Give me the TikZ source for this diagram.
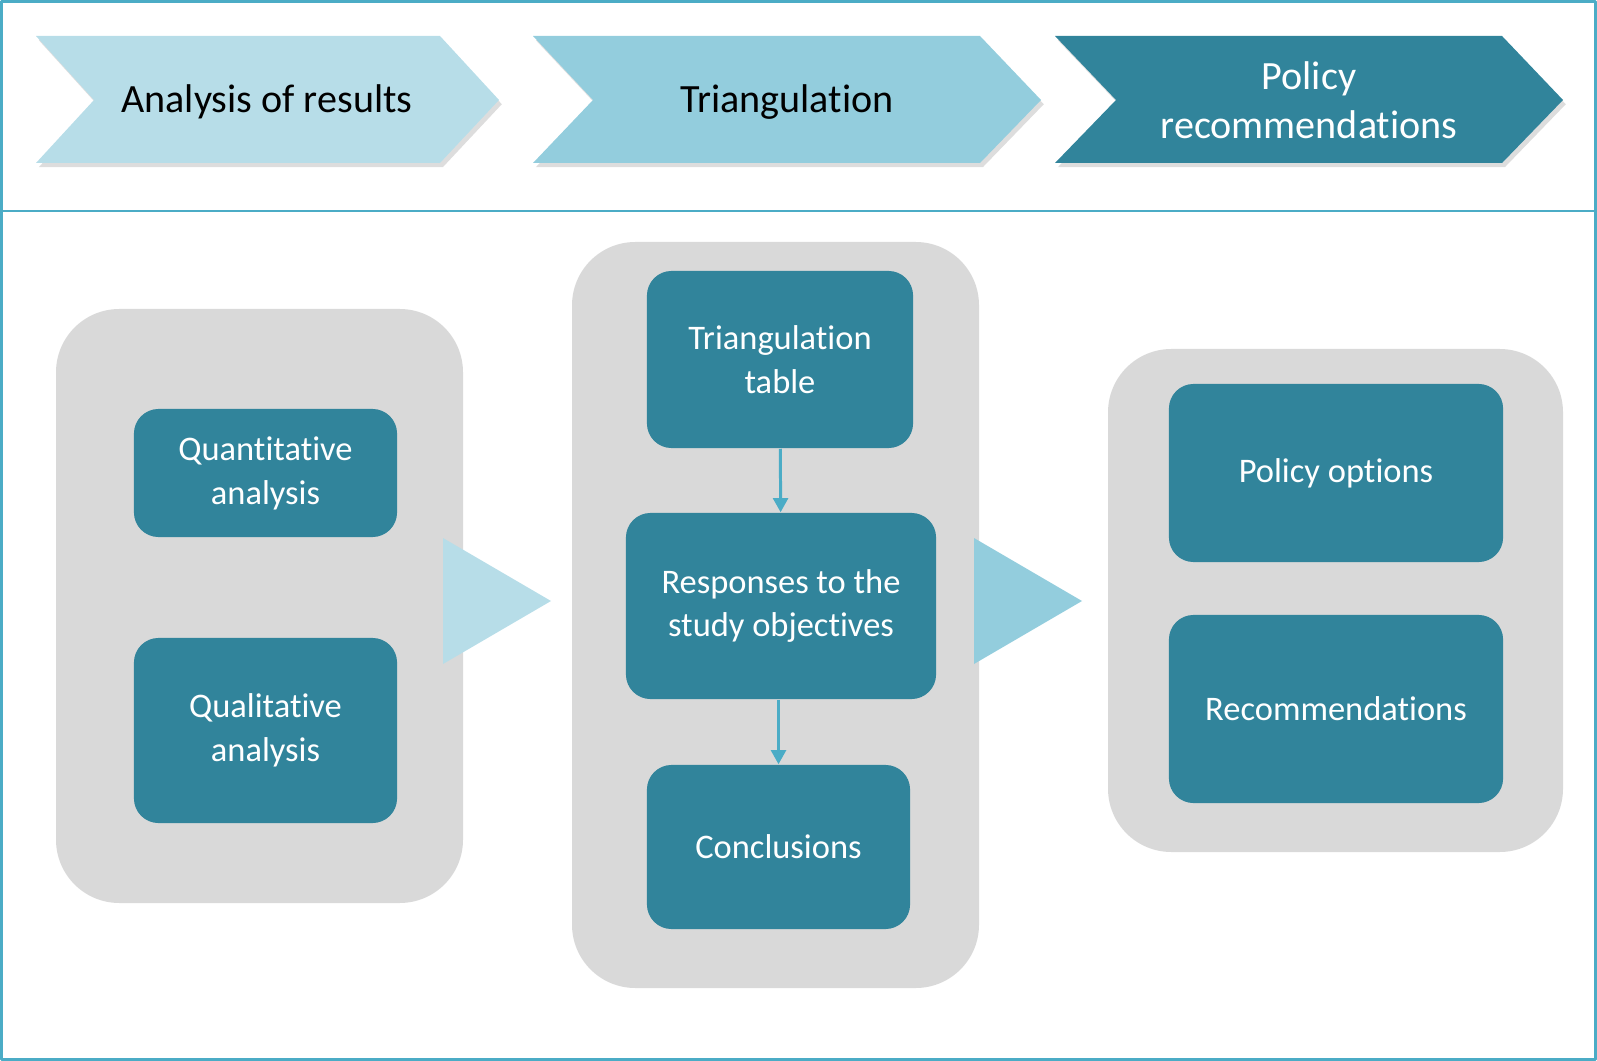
\documentclass[tikz,border=0pt]{standalone}
\usepackage{fontspec}
\setmainfont[Ligatures={NoCommon,NoContextual}]{Carlito}
\usepackage{tikz}
\usetikzlibrary{arrows.meta,shadows}
\definecolor{AquaLight}{HTML}{B7DDE8}
\definecolor{AquaMid}{HTML}{93CDDD}
\definecolor{AquaDark}{HTML}{31849B}
\definecolor{AquaLine}{HTML}{4BACC6}
\definecolor{PanelGrey}{HTML}{D9D9D9}

\begin{document}
\begin{tikzpicture}[x=0.01cm,y=-0.01cm,line join=round,
  chevshadow/.style={drop shadow={shadow xshift=0.8pt,shadow yshift=-1.2pt,opacity=0.22,fill=black!60}},
  steplabel/.style={font=\fontsize{11.4}{14}\selectfont,align=center,inner sep=0pt},
  panel/.style={fill=PanelGrey,rounded corners=18pt},
  box/.style={fill=AquaDark,rounded corners=7pt,text=white,align=center,inner sep=0pt,
    font=\fontsize{9.8}{12.5}\selectfont},
  link/.style={draw=AquaLine,line width=0.85pt,-{Triangle[length=4pt,width=4.2pt]}}]
  \useasboundingbox (0,0) rectangle (1597,1061);

  % frame and the line under the steps
  \draw[AquaLine,line width=0.85pt] (1.5,1.5) rectangle (1595.5,1059.5);
  \draw[AquaLine,line width=0.85pt] (0,211) -- (1597,211);

  % the three steps
  \fill[AquaLight,chevshadow] (36,36) -- (440,36) -- (499,100) -- (440,163) -- (36,163) -- (94,100) -- cycle;
  \fill[AquaMid,chevshadow] (533,36) -- (980,36) -- (1041,100) -- (980,163) -- (533,163) -- (593,100) -- cycle;
  \fill[AquaDark,chevshadow] (1055,36) -- (1502,36) -- (1563,100) -- (1502,163) -- (1055,163) -- (1116,100) -- cycle;
  \node[steplabel] (results) at (267,102) {Analysis of results};
  \node[steplabel] (triang) at (787,102) {Triangulation};
  \node[steplabel,text=white] (policy) at (1309,100) {Policy\\recommendations};

  % grey columns
  \fill[panel] (56,309) rectangle (463,903);
  \fill[panel] (572,242) rectangle (979,988);
  \fill[panel] (1108,349) rectangle (1563,852);

  % big arrows between the columns
  \fill[AquaLight] (443,538) -- (551,601) -- (443,664) -- cycle;
  \fill[AquaMid] (974,538) -- (1082,601) -- (974,664) -- cycle;

  % first column
  \node[box,minimum width=2.63cm,minimum height=1.28cm] (quant) at (265.5,473) {Quantitative\\analysis};
  \node[box,minimum width=2.63cm,minimum height=1.85cm] (qual) at (265.5,730.5) {Qualitative\\analysis};

  % second column
  \node[box,minimum width=2.66cm,minimum height=1.77cm] (table) at (780,359.5) {Triangulation\\table};
  \node[box,minimum width=3.10cm,minimum height=1.86cm] (resp) at (781,606) {Responses to the\\study objectives};
  \node[box,minimum width=2.63cm,minimum height=1.64cm] (concl) at (778.5,847) {Conclusions};
  \draw[link] (table) -- (resp);
  \draw[link] (resp.south -| concl) -- (concl.north);

  % third column
  \node[box,minimum width=3.34cm,minimum height=1.78cm] (options) at (1336,473) {Policy options};
  \node[box,minimum width=3.34cm,minimum height=1.88cm] (recs) at (1336,709) {Recommendations};
\end{tikzpicture}
\end{document}
